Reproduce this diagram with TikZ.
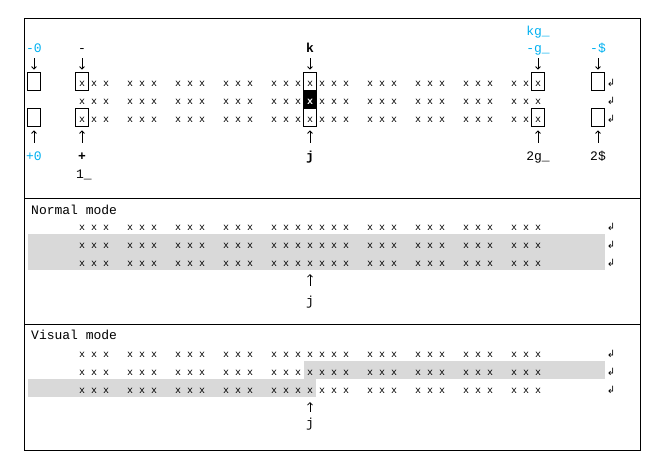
\documentclass[tikz,border=0pt]{standalone}
\usepackage{fontspec}
\setmonofont{Liberation Mono}
\newfontfamily\symfont{DejaVu Sans}
\usetikzlibrary{arrows.meta}

\definecolor{keycyan}{RGB}{0,176,240}
\definecolor{selgray}{RGB}{217,217,217}

% one line of the buffer
\newcommand{\xline}{x~x~x~~~x~x~x~~~x~x~x~~~x~x~x~~~x~x~x~x~x~x~x~~~x~x~x~~~x~x~x~~~x~x~x~~~x~x~x}

\tikzset{
  xrow/.style={anchor=base west, inner sep=0pt, font=\ttfamily\fontsize{10}{12}\selectfont},
  cellbox/.style={draw, line width=.8pt, inner sep=0pt, minimum width=13pt, minimum height=18pt},
  keylbl/.style={anchor=base, inner sep=0pt, text height=9pt, text depth=2pt,
    font=\ttfamily\fontsize{13}{15}\selectfont},
  modelbl/.style={anchor=base west, inner sep=0pt, font=\ttfamily\fontsize{13}{15}\selectfont},
  nlsym/.style={inner sep=0pt, font=\symfont\fontsize{10}{11}\selectfont},
  downarr/.style={shorten <=4pt, shorten >=2pt},
  uparr/.style={shorten <=8pt, shorten >=4pt}
}

\begin{document}
\begin{tikzpicture}[x=1pt, y=-1pt, >={Straight Barb[length=2.5pt,width=5pt]}]
  \useasboundingbox (0,0) rectangle (665,469);

  % selected text
  \fill[selgray] (28,234) rectangle (605,270);
  \fill[selgray] (304,361) rectangle (605,379);
  \fill[selgray] (28,379) rectangle (316,397);

  % frame
  \draw[line width=.8pt] (24,18) rectangle (640,450);
  \draw[line width=.8pt] (24,198) -- (640,198);
  \draw[line width=.8pt] (24,324) -- (640,324);

  \begin{scope}[every node/.style={xrow}]
    \node (t1) at (79,86.65)  {\xline};
    \node (t2) at (79,104.65) {\xline};
    \node (t3) at (79,122.65) {\xline};
    \node (n1) at (79,230.65) {\xline};
    \node (n2) at (79,248.65) {\xline};
    \node (n3) at (79,266.65) {\xline};
    \node (v1) at (79,357.65) {\xline};
    \node (v2) at (79,375.65) {\xline};
    \node (v3) at (79,393.65) {\xline};
  \end{scope}

  \begin{scope}[every node/.style={nlsym}]
    \node (tnl1) at (611,83)  {↲};
    \node (tnl2) at (611,101) {↲};
    \node (tnl3) at (611,119) {↲};
    \node (nnl1) at (611,227) {↲};
    \node (nnl2) at (611,245) {↲};
    \node (nnl3) at (611,263) {↲};
    \node (vnl1) at (611,354) {↲};
    \node (vnl2) at (611,372) {↲};
    \node (vnl3) at (611,390) {↲};
  \end{scope}

  % cursor cell
  \node[cellbox, fill=black, text=white, text height=11.3pt, text depth=0pt,
    font=\ttfamily\bfseries\fontsize{10}{12}\selectfont] (cur) at (310,99) {x};

  \begin{scope}[every node/.style={cellbox}]
    \node (zero1)  at (34,81)  {};
    \node (zero3)  at (34,117) {};
    \node (first1) at (82,81)  {};
    \node (first3) at (82,117) {};
    \node (col)    at (310,99) [minimum height=54pt] {};
    \node (last1)  at (538,81) {};
    \node (last3)  at (538,117) {};
    \node (eol1)   at (598,81) {};
    \node (eol3)   at (598,117) {};
  \end{scope}

  \begin{scope}[every node/.style={keylbl}]
    \node[keycyan] (mzero) at (34,52)  {-0};
    \node[keycyan] (pzero) at (34,160) {+0};
    \node (minus) at (82,52)  {-};
    \node[font=\ttfamily\bfseries\fontsize{13}{15}\selectfont] (plus) at (82,160) {+};
    \node (one)   at (84,178) {1\_};
    \node[font=\ttfamily\bfseries\fontsize{13}{15}\selectfont] (kk) at (310,52)  {k};
    \node[font=\ttfamily\bfseries\fontsize{13}{15}\selectfont] (jj) at (310,160) {j};
    \node[keycyan] (kg)   at (538,35)  {kg\_};
    \node[keycyan] (mg)   at (538,52)  {-g\_};
    \node (twog)  at (538,160) {2g\_};
    \node[keycyan] (mdol) at (598,52)  {-\$};
    \node (twodol) at (598,160) {2\$};
    \node (nj) at (310,305) {j};
    \node (vj) at (310,427) {j};
  \end{scope}

  \node[modelbl] (normal) at (31,214.5) {Normal mode};
  \node[modelbl] (visual) at (31,339.5) {Visual mode};

  \coordinate (ncur) at (310,270);
  \coordinate (vcur) at (310,397);

  \begin{scope}[every edge/.style={draw, ->, line width=.8pt}]
    \path (mzero) edge[downarr] (zero1);
    \path (pzero) edge[uparr] (zero3);
    \path (minus) edge[downarr] (first1);
    \path (plus)  edge[uparr] (first3);
    \path (kk)    edge[downarr] (col);
    \path (jj)    edge[uparr] (col);
    \path (mg)    edge[downarr] (last1);
    \path (twog)  edge[uparr] (last3);
    \path (mdol)  edge[downarr] (eol1);
    \path (twodol) edge[uparr] (eol3);
    \path (nj)    edge[shorten <=10pt, shorten >=4pt] (ncur);
    \path (vj)    edge[shorten <=6pt, shorten >=5pt] (vcur);
  \end{scope}
\end{tikzpicture}
\end{document}
